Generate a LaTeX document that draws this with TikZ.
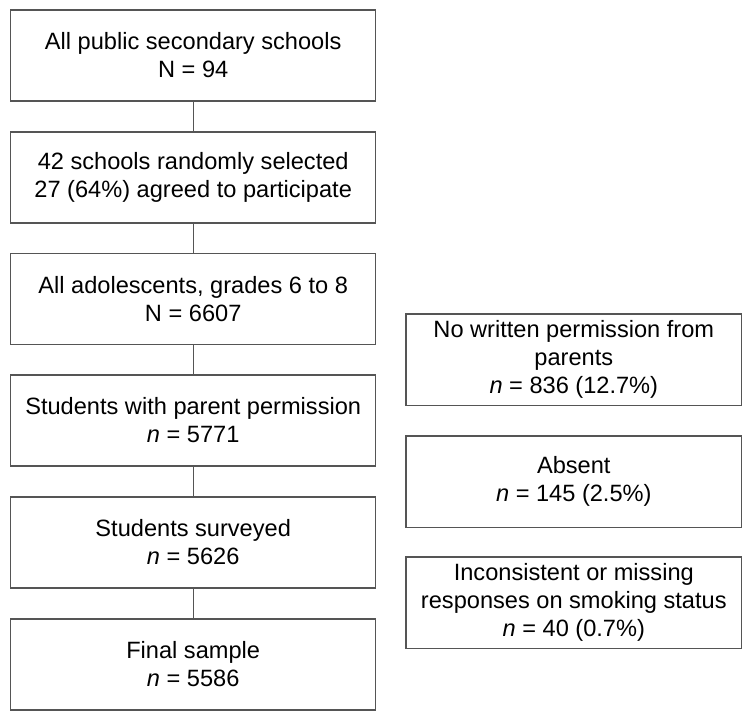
\documentclass[tikz,border=0pt]{standalone}
\usepackage{fontspec}
\setmainfont{Liberation Sans}
\begin{document}
\begin{tikzpicture}[x=1pt,y=-1pt,
  box/.style={draw=linegray, line width=1.4pt, align=center, inner sep=0pt,
    font=\fontsize{23.6}{28}\selectfont, text=black},
  lbox/.style={box, minimum width=365pt, minimum height=91pt},
  rbox/.style={box, minimum width=335.7pt, minimum height=91.5pt},
  conn/.style={draw=linegray, line width=1.4pt}]
\definecolor{linegray}{RGB}{85,85,85}
\useasboundingbox (0,0) rectangle (751,720);
\node[lbox] (b1) at (193.2,55.3) {All public secondary schools\\N = 94};
\node[lbox] (b2) at (193.2,177.3) {42 schools randomly selected\\27 (64\%) agreed to participate};
\node[lbox] (b3) at (193.2,299) {All adolescents, grades 6 to 8\\N = 6607};
\node[lbox] (b4) at (193.2,420.5) {Students with parent permission\\\textit{n} = 5771};
\node[lbox] (b5) at (193.2,542.5) {Students surveyed\\\textit{n} = 5626};
\node[lbox] (b6) at (193.2,664.3) {Final sample\\\textit{n} = 5586};
\node[rbox] (r1) at (573.8,359.7) {No written permission from\\parents\\\textit{n} = 836 (12.7\%)};
\node[rbox] (r2) at (573.8,481.7) {Absent\\\textit{n} = 145 (2.5\%)};
\node[rbox] (r3) at (573.8,602.8) {Inconsistent or missing\\responses on smoking status\\\textit{n} = 40 (0.7\%)};
\draw[conn] (b1) -- (b2);
\draw[conn] (b2) -- (b3);
\draw[conn] (b3) -- (b4);
\draw[conn] (b4) -- (b5);
\draw[conn] (b5) -- (b6);
\end{tikzpicture}
\end{document}
